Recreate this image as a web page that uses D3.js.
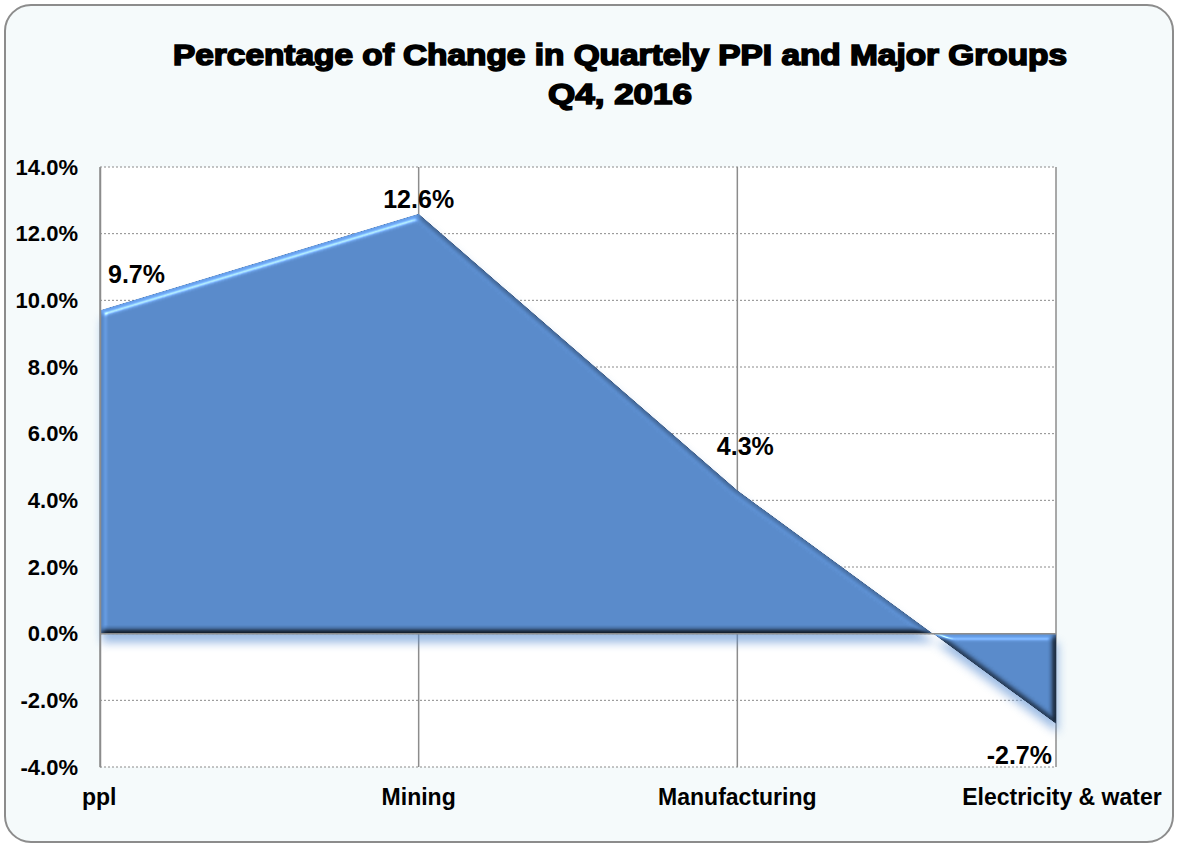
<!DOCTYPE html>
<html>
<head>
<meta charset="utf-8">
<script src="https://cdn.jsdelivr.net/npm/d3@7"></script>
<style>
  body { margin: 0; background: #ffffff; }
  text { font-family: "Liberation Sans", Arial, sans-serif; }
</style>
</head>
<body>
<script>
// chart data
var categories = ["ppl", "Mining", "Manufacturing", "Electricity & water"];
var values = [9.7, 12.6, 4.3, -2.7];
var labels = ["9.7%", "12.6%", "4.3%", "-2.7%"];
var yTicks = [-4, -2, 0, 2, 4, 6, 8, 10, 12, 14];
var titleLines = ["Percentage of Change in Quartely PPI and Major Groups", "Q4, 2016"];

var W = 1178, H = 847;
var svg = d3.select("body").append("svg")
  .attr("width", W)
  .attr("height", H);

var defs = svg.append("defs");

// bevel filter (light from upper left)
var bevel = defs.append("filter").attr("id", "bevel")
  .attr("color-interpolation-filters", "sRGB")
  .attr("x", "-5%").attr("y", "-5%").attr("width", "110%").attr("height", "110%");
bevel.append("feGaussianBlur").attr("in", "SourceAlpha").attr("stdDeviation", 3).attr("result", "blur");
var spec = bevel.append("feSpecularLighting").attr("in", "blur").attr("surfaceScale", 5)
  .attr("specularConstant", 0.8).attr("specularExponent", 40)
  .attr("lighting-color", "#ffffff").attr("result", "spec");
spec.append("feDistantLight").attr("azimuth", 235).attr("elevation", 40);
bevel.append("feComposite").attr("in", "spec").attr("in2", "SourceAlpha").attr("operator", "in").attr("result", "specOut");
var diff = bevel.append("feDiffuseLighting").attr("in", "blur").attr("surfaceScale", 5)
  .attr("diffuseConstant", 1).attr("lighting-color", "#ffffff").attr("result", "diff");
diff.append("feDistantLight").attr("azimuth", 235).attr("elevation", 55);
bevel.append("feComposite").attr("in", "diff").attr("in2", "SourceAlpha").attr("operator", "in").attr("result", "diffOut");
bevel.append("feComposite").attr("in", "SourceGraphic").attr("in2", "diffOut")
  .attr("operator", "arithmetic").attr("k1", 1.22).attr("k2", 0).attr("k3", 0).attr("k4", 0).attr("result", "lit");
bevel.append("feComposite").attr("in", "lit").attr("in2", "specOut")
  .attr("operator", "arithmetic").attr("k1", 0).attr("k2", 1).attr("k3", 0.5).attr("k4", 0);

// soft shadow
var shadow = defs.append("filter").attr("id", "shadow")
  .attr("x", "-10%").attr("y", "-10%").attr("width", "120%").attr("height", "130%");
shadow.append("feGaussianBlur").attr("in", "SourceGraphic").attr("stdDeviation", 5);

// background card
svg.append("rect")
  .attr("x", 5).attr("y", 5)
  .attr("width", W - 10).attr("height", H - 10)
  .attr("rx", 26).attr("ry", 26)
  .attr("fill", "#f5fafb")
  .attr("stroke", "#8c8c8c")
  .attr("stroke-width", 2);

// title
svg.selectAll(".title").data(titleLines).enter().append("text")
  .attr("class", "title")
  .attr("x", 620)
  .attr("y", function(d, i) { return 65 + i * 39; })
  .attr("text-anchor", "middle")
  .attr("font-size", 29)
  .attr("font-weight", "bold")
  .attr("stroke", "#000").attr("stroke-width", 1.6)
  .attr("textLength", function(d, i) { return i == 0 ? 894 : 144; })
  .attr("lengthAdjust", "spacingAndGlyphs")
  .text(function(d) { return d; });

var plotL = 100, plotR = 1056, plotT = 167, plotB = 767;

var x = d3.scalePoint().domain(categories).range([plotL, plotR]).padding(0);
var y = d3.scaleLinear().domain([-4, 14]).range([plotB, plotT]);

// plot area
svg.append("rect")
  .attr("x", plotL).attr("y", plotT)
  .attr("width", plotR - plotL).attr("height", plotB - plotT)
  .attr("fill", "#ffffff");

// horizontal gridlines
svg.selectAll(".hgrid").data(yTicks).enter().append("line")
  .attr("class", "hgrid")
  .attr("x1", plotL).attr("x2", plotR)
  .attr("y1", function(d) { return y(d); })
  .attr("y2", function(d) { return y(d); })
  .attr("stroke", "#8a8a8a")
  .attr("stroke-width", 1)
  .attr("stroke-dasharray", "2,2");

// vertical gridlines
svg.selectAll(".vgrid").data(categories).enter().append("line")
  .attr("class", "vgrid")
  .attr("x1", function(d) { return x(d); })
  .attr("x2", function(d) { return x(d); })
  .attr("y1", plotT).attr("y2", plotB)
  .attr("stroke", "#8c8c8c")
  .attr("stroke-width", 1.5);

var pts = categories.map(function(c, i) { return {cat: c, v: values[i], label: labels[i]}; });

var area = d3.area()
  .x(function(d) { return x(d.cat); })
  .y0(y(0))
  .y1(function(d) { return y(d.v); });

// shadow below
svg.append("path")
  .datum(pts)
  .attr("d", area)
  .attr("fill", "#5b8fd2")
  .attr("opacity", 0.6)
  .attr("transform", "translate(2,9)")
  .attr("filter", "url(#shadow)");

svg.append("path")
  .datum(pts)
  .attr("d", area)
  .attr("fill", "#5889c9")
  .attr("filter", "url(#bevel)");

// zero axis line
svg.append("line")
  .attr("x1", plotL).attr("x2", plotR)
  .attr("y1", y(0)).attr("y2", y(0))
  .attr("stroke", "#8c8c8c")
  .attr("stroke-width", 1.5);

// y axis
var yAxis = d3.axisLeft(y)
  .tickValues(yTicks)
  .tickSize(0)
  .tickPadding(22)
  .tickFormat(function(d) { return d.toFixed(1) + "%"; });
var gy = svg.append("g")
  .attr("transform", "translate(" + plotL + ",0)")
  .call(yAxis);
gy.select(".domain").attr("stroke", "#8c8c8c").attr("stroke-width", 1.5);
gy.selectAll("text")
  .attr("font-family", "Liberation Sans, Arial, sans-serif")
  .attr("font-size", 22)
  .attr("font-weight", "bold")
  .attr("fill", "#000");

// category labels
var catAnchor = ["start", "middle", "middle", "middle"];
var catShift = [-18, 0, 0, 6];
svg.selectAll(".cat").data(categories).enter().append("text")
  .attr("class", "cat")
  .attr("x", function(d, i) { return x(d) + catShift[i]; })
  .attr("y", 805)
  .attr("text-anchor", function(d, i) { return catAnchor[i]; })
  .attr("font-size", 23)
  .attr("font-weight", "bold")
  .text(function(d) { return d; });

// data labels
var lblDx = [8, 0, 8, -4];
var lblDy = [-27, -6, -35, 40];
var lblAnchor = ["start", "middle", "middle", "end"];
svg.selectAll(".dlabel").data(pts).enter().append("text")
  .attr("class", "dlabel")
  .attr("x", function(d, i) { return x(d.cat) + lblDx[i]; })
  .attr("y", function(d, i) { return y(d.v) + lblDy[i]; })
  .attr("text-anchor", function(d, i) { return lblAnchor[i]; })
  .attr("font-size", 25)
  .attr("font-weight", "bold")
  .text(function(d) { return d.label; });
</script>
</body>
</html>
